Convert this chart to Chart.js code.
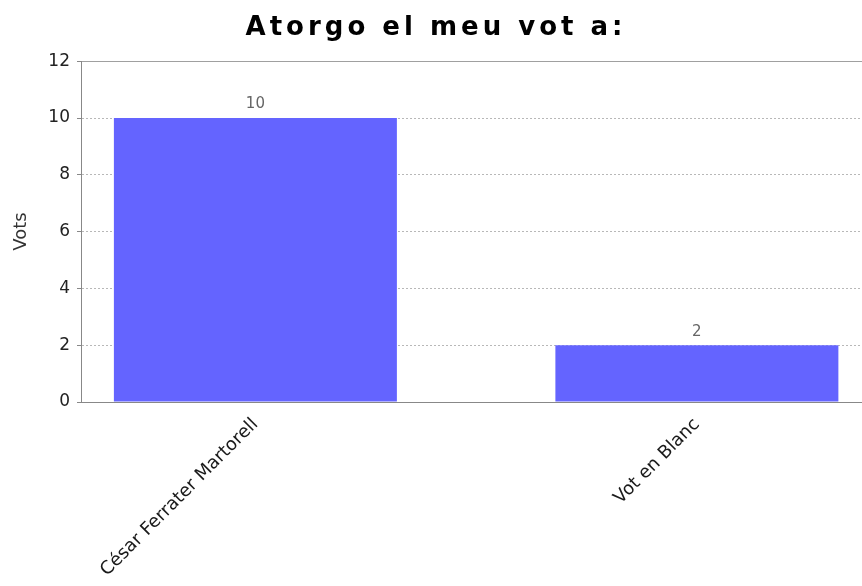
<!DOCTYPE html>
<html>
<head>
<meta charset="utf-8">
<script src="https://cdn.jsdelivr.net/npm/chart.js@4/dist/chart.umd.min.js"></script>
<style>
  html, body { margin: 0; padding: 0; background: #fff; }
  #wrap { width: 862px; height: 586px; }
</style>
</head>
<body>
<div id="wrap"><canvas id="chart" width="862" height="586"></canvas></div>
<script>
// values
const categories = ['César Ferrater Martorell', 'Vot en Blanc']
const votes = [10, 2]
const yTicks = [0, 2, 4, 6, 8, 10, 12]

const BAR_COLOR = '#6464ff'
const AXIS_COLOR = '#888888'

// value labels above the bars
const barLabels = {
  id: 'barLabels',
  afterDatasetsDraw(chart) {
    const { ctx } = chart
    const meta = chart.getDatasetMeta(0)
    ctx.save()
    ctx.font = '15px "DejaVu Sans"'
    ctx.fillStyle = '#666'
    ctx.textAlign = 'center'
    ctx.textBaseline = 'bottom'
    meta.data.forEach((bar, i) => ctx.fillText(String(votes[i]), bar.x, bar.y - 6))
    ctx.restore()
  },
}

// the title in the reference is letter-spaced and sits a little right of centre
const spacedTitle = {
  id: 'spacedTitle',
  beforeDraw(chart) {
    const t = chart.titleBlock
    if (!t || t._spaced) return
    const draw = t.draw
    t.draw = function (area) {
      chart.ctx.save()
      chart.ctx.translate(5, 0)
      chart.ctx.letterSpacing = '4px'
      draw.call(this, area)
      chart.ctx.restore()
    }
    t._spaced = true
  },
}

new Chart(document.getElementById('chart'), {
  type: 'bar',
  data: {
    datasets: [{
      label: 'Vots',
      data: votes.map((v, i) => ({ x: i, y: v })),
      backgroundColor: BAR_COLOR,
      borderWidth: 0,
      barPercentage: 1,
      categoryPercentage: 0.641,
    }],
  },
  plugins: [barLabels, spacedTitle],
  options: {
    responsive: false,
    animation: false,
    layout: { padding: 0 },
    plugins: {
      legend: { display: false },
      tooltip: { enabled: false },
      title: {
        display: true,
        text: 'Atorgo el meu vot a:',
        color: '#000',
        font: { family: '"DejaVu Sans"', size: 26, weight: 'bold', lineHeight: 1.2 },
        padding: { top: 13, bottom: 17 },
      },
    },
    scales: {
      x: {
        type: 'linear',
        offset: false,
        min: -0.395,
        max: 1.374,
        afterBuildTicks: s => { s.ticks = categories.map((c, i) => ({ value: i })) },
        afterFit: s => { s.height = 184 },
        grid: { display: false, offset: false },
        border: { display: true, color: AXIS_COLOR, width: 1 },
        ticks: {
          autoSkip: false,
          minRotation: 45,
          maxRotation: 45,
          padding: 4,
          color: '#1a1a1a',
          font: { family: '"DejaVu Sans"', size: 18 },
          callback: v => categories[v],
        },
      },
      y: {
        min: 0,
        max: 12,
        afterBuildTicks: s => { s.ticks = yTicks.map(v => ({ value: v })) },
        afterFit: s => { s.width = 81 },
        grid: {
          color: c => c.tick.value === 12 ? '#a0a0a0' : (c.tick.value === 0 ? 'rgba(0,0,0,0)' : '#b8b8b8'),
          tickColor: AXIS_COLOR,
          tickLength: 4,
          lineWidth: 1,
        },
        border: {
          display: true,
          color: AXIS_COLOR,
          width: 1,
          dash: c => (c.tick && c.tick.value === 12) ? [] : [2, 2],
        },
        ticks: {
          padding: 7,
          color: '#222',
          font: { family: '"DejaVu Sans"', size: 17 },
        },
        title: {
          display: true,
          text: 'Vots',
          color: '#333',
          font: { family: '"DejaVu Sans"', size: 18, lineHeight: 1.2 },
          padding: { top: 11, bottom: 0 },
        },
      },
    },
  },
})
</script>
</body>
</html>
